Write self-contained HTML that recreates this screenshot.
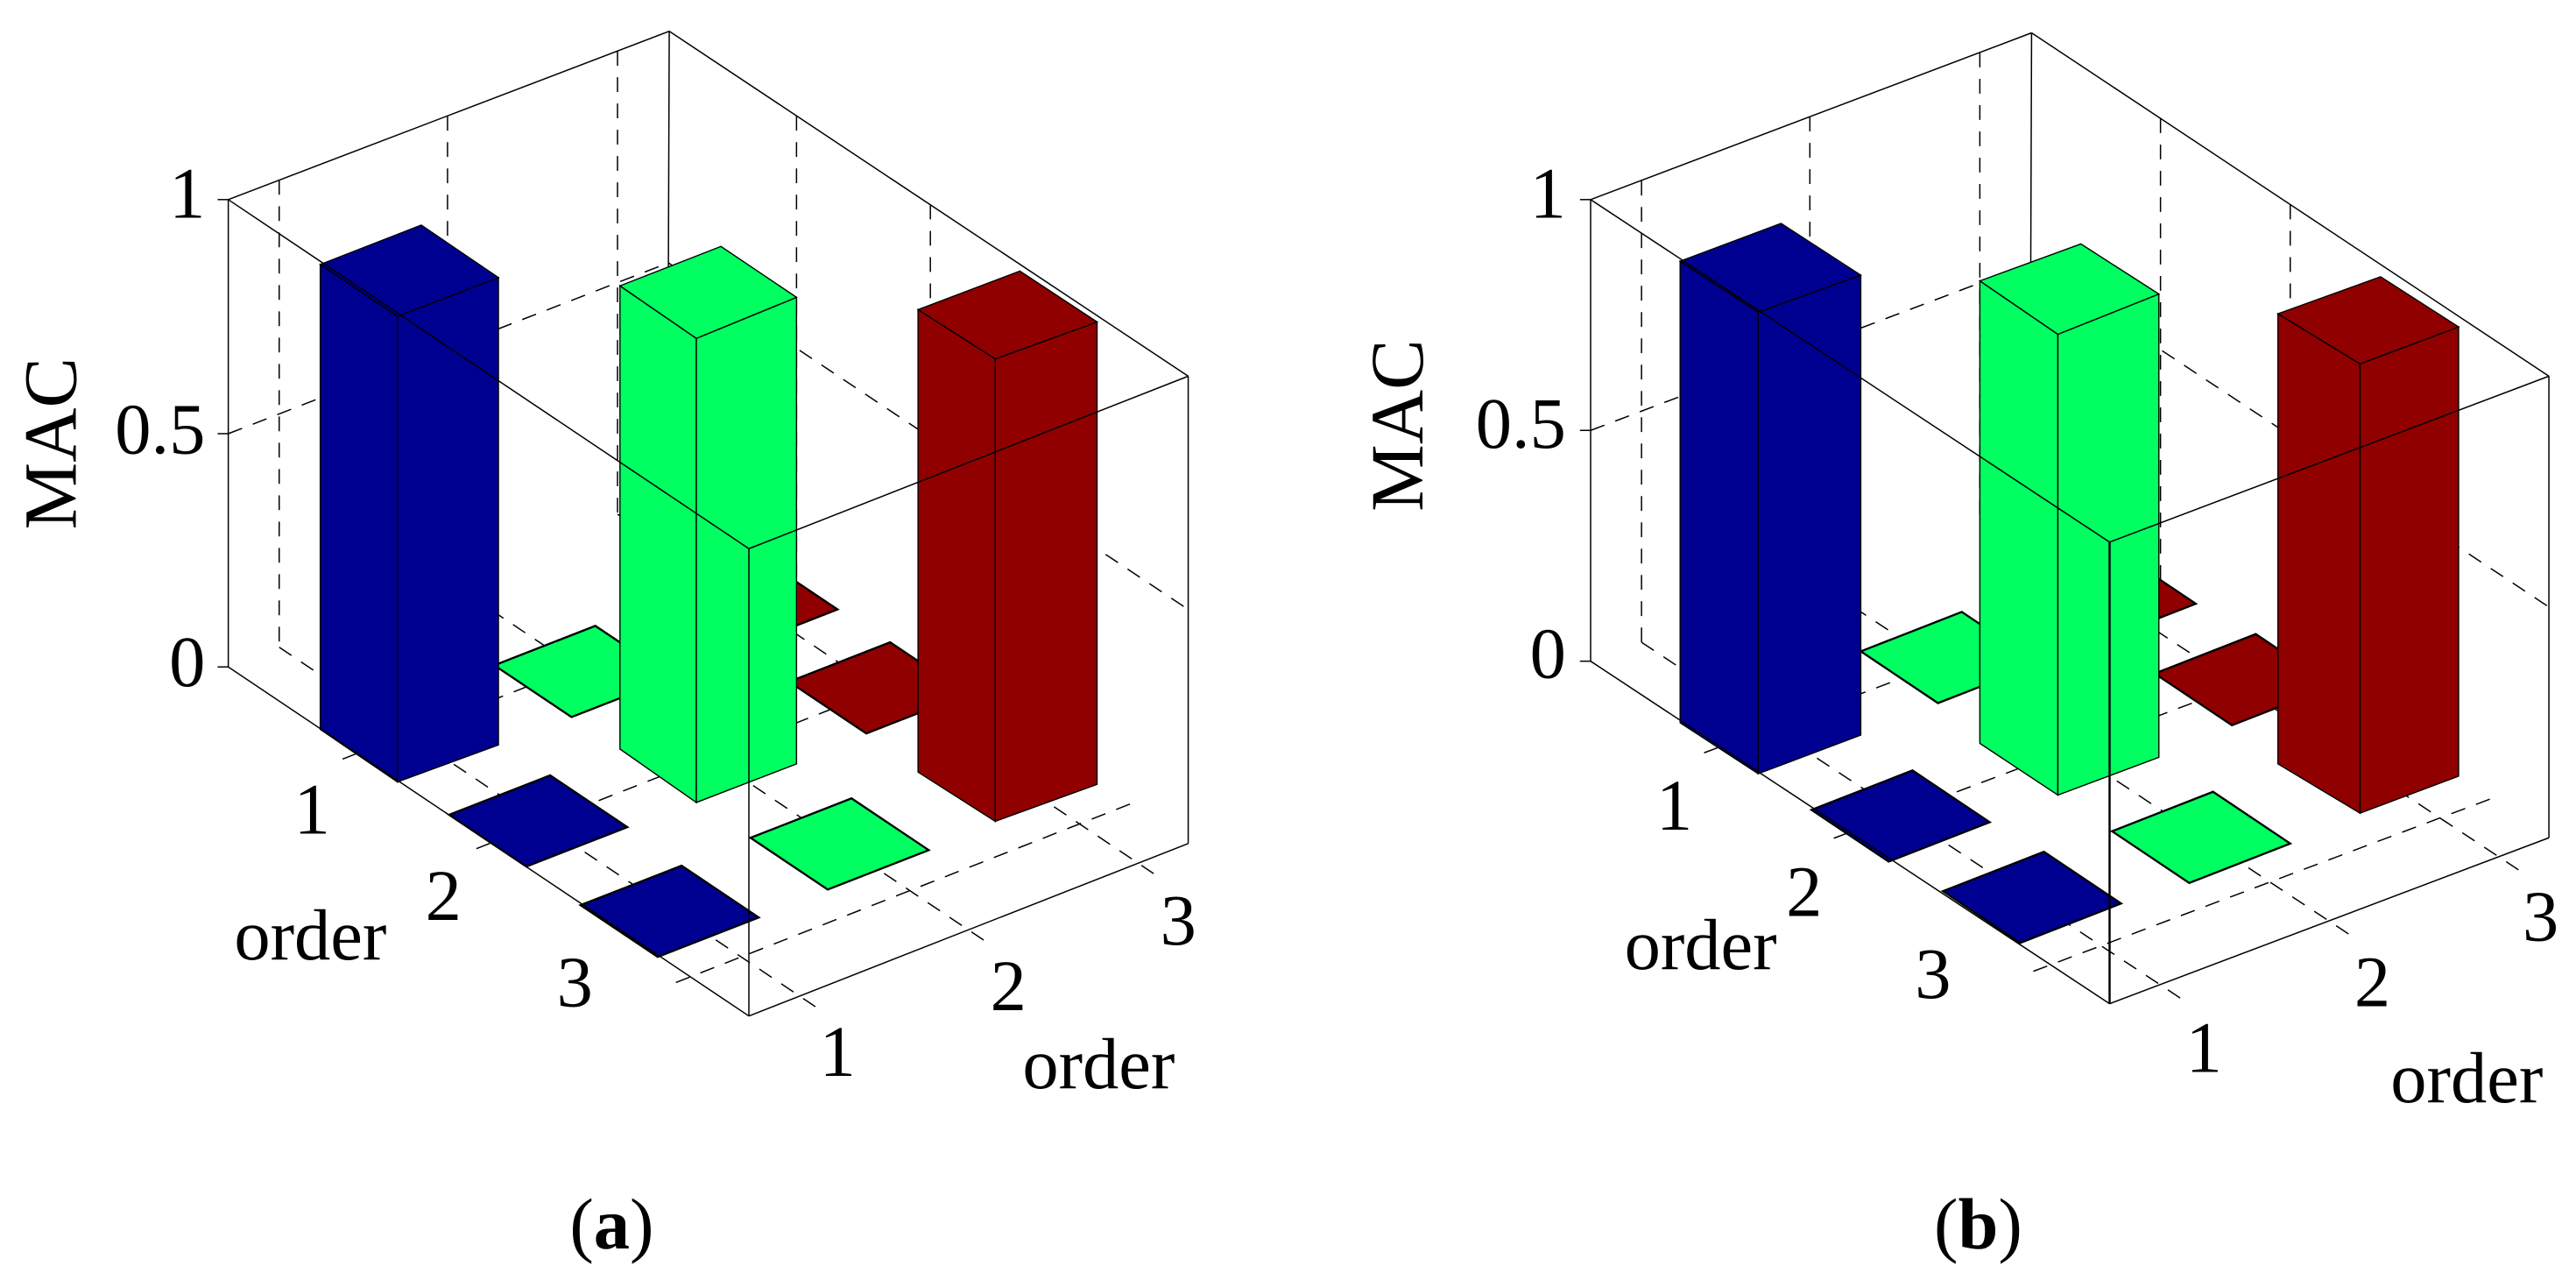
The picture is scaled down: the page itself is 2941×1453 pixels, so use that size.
<!DOCTYPE html>
<html><head><meta charset="utf-8"><style>
html,body{margin:0;padding:0;background:#fff;}
svg{display:block;}
text{font-family:"Liberation Serif",serif;fill:#000;}
</style></head><body>
<svg width="2941" height="1453" viewBox="0 0 2941 1453" xmlns="http://www.w3.org/2000/svg">
<rect width="2941" height="1453" fill="#fff"/>
<!-- PANEL A -->
<g transform="scale(0.9375)">
 <g stroke="#000" stroke-width="1.6" stroke-dasharray="18 14" fill="none">
  <line x1="340" y1="219" x2="340" y2="788"/><line x1="545" y1="141" x2="545" y2="707"/><line x1="752" y1="62" x2="752" y2="626"/>
  <line x1="970" y1="141" x2="970" y2="708"/><line x1="1133" y1="249" x2="1133" y2="815"/>
  <line x1="278" y1="528" x2="814" y2="320"/><line x1="814" y1="320" x2="1447" y2="742"/>
  <line x1="340" y1="788" x2="1004" y2="1233"/><line x1="545" y1="707" x2="1209" y2="1152"/><line x1="752" y1="626" x2="1416" y2="1071"/>
  <line x1="970" y1="707" x2="405" y2="929"/><line x1="1133" y1="816" x2="568" y2="1038"/><line x1="1376" y1="979" x2="811" y2="1201"/>
 </g>
 <g stroke="#000" stroke-width="1.6" fill="none">
  <line x1="278" y1="243" x2="815" y2="38"/><line x1="815" y1="38" x2="1447" y2="458"/><line x1="815" y1="38" x2="813" y2="602"/>
 </g>
 <g stroke="#000" stroke-width="2.5">
  <polygon points="803,727 926,679 1020,742 897,790" fill="#900000"/>
  <polygon points="961,830 1084,782 1178,845 1055,893" fill="#900000"/>
  <polygon points="602,810 725,762 819,825 696,873" fill="#00ff60"/>
  <polygon points="547,992 670,944 764,1007 641,1055" fill="#000090"/>
  <polygon points="707,1102 830,1054 924,1117 801,1165" fill="#000090"/>
  <polygon points="914,1020 1037,972 1131,1035 1008,1083" fill="#00ff60"/>
 </g>
 <g stroke="#000" stroke-width="1.5">
  <polygon points="1118,377 1212,437 1212,1000 1118,940" fill="#900000"/>
  <polygon points="1212,437 1336,392 1336,955 1212,1000" fill="#900000"/>
  <polygon points="1118,377 1242,330 1336,392 1212,437" fill="#900000"/>
  <polygon points="755,348 848,412 848,977 755,912" fill="#00ff60"/>
  <polygon points="848,412 970,362 970,930 848,977" fill="#00ff60"/>
  <polygon points="755,348 878,300 970,362 848,412" fill="#00ff60"/>
  <polygon points="390,322 484,385 484,952 390,888" fill="#000090"/>
  <polygon points="484,385 607,338 607,907 484,952" fill="#000090"/>
  <polygon points="390,322 513,274 607,338 484,385" fill="#000090"/>
 </g>
 <g stroke="#000" stroke-width="1.6" fill="none">
  <line x1="278" y1="243" x2="278" y2="812"/>
  <line x1="278" y1="243" x2="912" y2="668"/><line x1="912" y1="668" x2="1447" y2="458"/>
  <line x1="1447" y1="458" x2="1447" y2="1027"/><line x1="912" y1="668" x2="912" y2="1237"/>
  <line x1="278" y1="812" x2="912" y2="1237"/><line x1="912" y1="1237" x2="1447" y2="1027"/>
  <line x1="265" y1="243" x2="278" y2="243"/><line x1="265" y1="528" x2="278" y2="528"/><line x1="265" y1="812" x2="278" y2="812"/>
 </g>
 <g font-size="88">
  <text x="250" y="265" text-anchor="end">1</text>
  <text x="250" y="552" text-anchor="end">0.5</text>
  <text x="250" y="835" text-anchor="end">0</text>
  <text x="380" y="1015" text-anchor="middle">1</text>
  <text x="540" y="1120" text-anchor="middle">2</text>
  <text x="700" y="1225" text-anchor="middle">3</text>
  <text x="378" y="1168" text-anchor="middle">order</text>
  <text x="1020" y="1310" text-anchor="middle">1</text>
  <text x="1228" y="1230" text-anchor="middle">2</text>
  <text x="1435" y="1150" text-anchor="middle">3</text>
  <text x="1338" y="1325" text-anchor="middle">order</text>
  <text x="745" y="1520" text-anchor="middle">(<tspan font-weight="bold">a</tspan>)</text>
  <text transform="translate(92,540) rotate(-90)" text-anchor="middle" font-size="92">MAC</text>
 </g>
</g>
<!-- PANEL B -->
<g transform="translate(1471,0) scale(0.9375)">
 <g stroke="#000" stroke-width="1.6" stroke-dasharray="18 14" fill="none">
  <line x1="430" y1="220" x2="430" y2="782"/><line x1="635" y1="142" x2="635" y2="704"/><line x1="842" y1="64" x2="842" y2="626"/>
  <line x1="1062" y1="144" x2="1062" y2="707"/><line x1="1220" y1="249" x2="1220" y2="811"/>
  <line x1="368" y1="524" x2="904" y2="321"/><line x1="904" y1="321" x2="1535" y2="739"/>
  <line x1="430" y1="782" x2="1092" y2="1219"/><line x1="635" y1="704" x2="1297" y2="1141"/><line x1="842" y1="626" x2="1504" y2="1063"/>
  <line x1="1062" y1="707" x2="497" y2="920"/><line x1="1220" y1="811" x2="655" y2="1024"/><line x1="1463" y1="973" x2="898" y2="1186"/>
 </g>
 <g stroke="#000" stroke-width="1.6" fill="none">
  <line x1="368" y1="243" x2="905" y2="40"/><line x1="905" y1="40" x2="1535" y2="458"/><line x1="905" y1="40" x2="903" y2="603"/>
 </g>
 <g stroke="#000" stroke-width="2.5">
  <polygon points="888,720 1011,672 1105,735 982,783" fill="#900000"/>
  <polygon points="1055,820 1178,772 1272,835 1149,883" fill="#900000"/>
  <polygon points="697,793 820,745 914,808 791,856" fill="#00ff60"/>
  <polygon points="637,986 760,938 854,1001 731,1049" fill="#000090"/>
  <polygon points="797,1085 920,1037 1014,1100 891,1148" fill="#000090"/>
  <polygon points="1003,1012 1126,964 1220,1027 1097,1075" fill="#00ff60"/>
 </g>
 <g stroke="#000" stroke-width="1.5">
  <polygon points="1205,382 1305,443 1305,990 1205,930" fill="#900000"/>
  <polygon points="1305,443 1425,398 1425,945 1305,990" fill="#900000"/>
  <polygon points="1205,382 1330,337 1425,398 1305,443" fill="#900000"/>
  <polygon points="842,342 937,407 937,968 842,905" fill="#00ff60"/>
  <polygon points="937,407 1060,358 1060,922 937,968" fill="#00ff60"/>
  <polygon points="842,342 965,297 1060,358 937,407" fill="#00ff60"/>
  <polygon points="477,318 572,380 572,942 477,880" fill="#000090"/>
  <polygon points="572,380 697,335 697,895 572,942" fill="#000090"/>
  <polygon points="477,318 600,272 697,335 572,380" fill="#000090"/>
 </g>
 <g stroke="#000" stroke-width="1.6" fill="none">
  <line x1="368" y1="243" x2="368" y2="805"/>
  <line x1="368" y1="243" x2="1000" y2="660"/><line x1="1000" y1="660" x2="1535" y2="458"/>
  <line x1="1535" y1="458" x2="1535" y2="1020"/><line x1="1000" y1="660" x2="1000" y2="1222" stroke-width="2.6"/>
  <line x1="368" y1="805" x2="1000" y2="1222"/><line x1="1000" y1="1222" x2="1535" y2="1020"/>
  <line x1="355" y1="243" x2="368" y2="243"/><line x1="355" y1="524" x2="368" y2="524"/><line x1="355" y1="805" x2="368" y2="805"/>
 </g>
 <g font-size="88">
  <text x="338" y="265" text-anchor="end">1</text>
  <text x="338" y="545" text-anchor="end">0.5</text>
  <text x="338" y="825" text-anchor="end">0</text>
  <text x="470" y="1010" text-anchor="middle">1</text>
  <text x="628" y="1115" text-anchor="middle">2</text>
  <text x="785" y="1215" text-anchor="middle">3</text>
  <text x="502" y="1180" text-anchor="middle">order</text>
  <text x="1115" y="1305" text-anchor="middle">1</text>
  <text x="1320" y="1225" text-anchor="middle">2</text>
  <text x="1525" y="1145" text-anchor="middle">3</text>
  <text x="1435" y="1342" text-anchor="middle">order</text>
  <text x="840" y="1520" text-anchor="middle">(<tspan font-weight="bold">b</tspan>)</text>
  <text transform="translate(163,518) rotate(-90)" text-anchor="middle" font-size="92">MAC</text>
 </g>
</g>
</svg>
</body></html>
